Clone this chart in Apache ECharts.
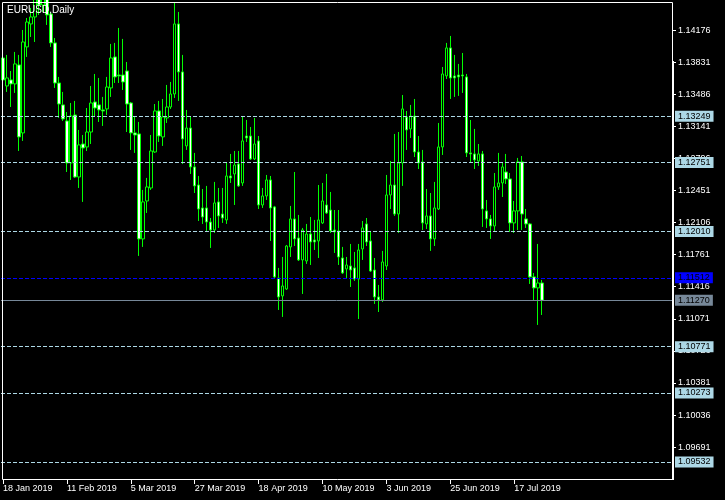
<!DOCTYPE html>
<html>
<head>
<meta charset="utf-8">
<script src="https://cdn.jsdelivr.net/npm/echarts@6.0.0/dist/echarts.min.js"></script>
<style>
html,body{margin:0;padding:0;background:#000;}
#chart{width:725px;height:500px;}
</style>
</head>
<body>
<div id="chart"></div>
<script>
// ---- data (EURUSD daily) ----
const symbolTitle = 'EURUSD,Daily';
const firstDate = '2019-01-18';
const opens = [
1.13876,1.13575,1.13640,1.13597,1.13801,1.13070,1.13995,1.14242,1.14317,1.14801,
1.14446,1.14532,1.14349,1.14038,1.13607,1.13371,1.13199,1.12747,1.13263,1.12596,
1.12951,1.12919,1.13080,1.13403,1.13371,1.13317,1.13328,1.13554,1.13887,1.13693,
1.13693,1.13736,1.13392,1.13070,1.13059,1.11930,1.12338,1.12478,1.12865,1.13306,
1.13027,1.13231,1.13349,1.13489,1.14242,1.13726,1.12930,1.13123,1.12704,1.12510,
1.12263,1.12263,1.12112,1.12026,1.12328,1.12198,1.12134,1.12607,1.12629,1.12736,
1.12532,1.13037,1.13037,1.12790,1.12984,1.12295,1.12392,1.12564,1.12274,1.11510,
1.11317,1.11392,1.11844,1.12145,1.11940,1.11704,1.11693,1.11983,1.11919,1.11908,
1.12102,1.12295,1.12241,1.12026,1.12016,1.11725,1.11607,1.11639,1.11618,1.11499,
1.11822,1.12091,1.11908,1.11596,1.11306,1.11274,1.11639,1.12403,1.12510,1.12198,
1.12747,1.13242,1.13113,1.13252,1.12865,1.12758,1.12091,1.12177,1.11930,1.12252,
1.12919,1.13683,1.13984,1.13683,1.13693,1.13693,1.13672,1.12855,1.12844,1.12768,
1.12844,1.12231,1.12145,1.12069,1.12489,1.12532,1.12650,1.12575,1.12102,1.12231,
1.12758,1.12145,1.12091,1.11521,1.11403,1.11456];
const highs = [
1.13887,1.13909,1.13736,1.13941,1.13909,1.14177,1.14306,1.14414,1.14984,1.15145,
1.14629,1.14608,1.14371,1.14091,1.13672,1.13511,1.13295,1.13392,1.13414,1.13102,
1.13048,1.13338,1.13575,1.13704,1.13661,1.13457,1.13672,1.14027,1.14038,1.14199,
1.14081,1.13833,1.13403,1.13252,1.13188,1.12457,1.12586,1.13048,1.13381,1.13414,
1.13435,1.13586,1.13618,1.14468,1.14371,1.13909,1.13317,1.13242,1.12855,1.12607,
1.12467,1.12500,1.12155,1.12543,1.12478,1.12478,1.12747,1.12844,1.12876,1.12876,
1.13242,1.13209,1.13134,1.13231,1.13037,1.12478,1.12618,1.12607,1.12285,1.11618,
1.11736,1.11865,1.12285,1.12650,1.12188,1.12048,1.12091,1.12166,1.12134,1.12510,
1.12532,1.12629,1.12435,1.12241,1.12241,1.11844,1.11736,1.11876,1.11790,1.11876,
1.12123,1.12155,1.12016,1.11725,1.11435,1.11801,1.12618,1.12768,1.13059,1.13080,
1.13478,1.13306,1.13371,1.13435,1.13037,1.12887,1.12467,1.12424,1.12543,1.13177,
1.13779,1.14038,1.14113,1.13909,1.13812,1.13930,1.13704,1.13209,1.13113,1.12951,
1.12876,1.12349,1.12188,1.12639,1.12855,1.12747,1.12844,1.12639,1.12338,1.12801,
1.12822,1.12252,1.12102,1.11564,1.11876,1.11489];
const lows = [
1.13554,1.13511,1.13349,1.13500,1.12876,1.12984,1.13887,1.14102,1.14048,1.14339,
1.14371,1.14231,1.13995,1.13554,1.13231,1.13199,1.12650,1.12564,1.12586,1.12478,
1.12328,1.12876,1.12951,1.13242,1.13188,1.13145,1.13263,1.13457,1.13607,1.13607,
1.13532,1.13080,1.12887,1.12855,1.11747,1.11844,1.12209,1.12457,1.12855,1.12973,
1.12930,1.13177,1.13328,1.13446,1.13414,1.12736,1.12887,1.12629,1.12424,1.12123,
1.12091,1.12016,1.11833,1.11994,1.12048,1.12102,1.12091,1.12532,1.12295,1.12489,
1.12500,1.12973,1.12779,1.12779,1.12252,1.12263,1.12349,1.11908,1.11499,1.11166,
1.11091,1.11381,1.11736,1.11854,1.11693,1.11338,1.11661,1.11650,1.11811,1.11725,
1.12091,1.12198,1.11994,1.11779,1.11650,1.11553,1.11499,1.11413,1.11478,1.11069,
1.11704,1.11854,1.11575,1.11231,1.11144,1.11252,1.11596,1.12252,1.12177,1.11994,
1.12500,1.12887,1.13016,1.12811,1.12682,1.12026,1.12037,1.11801,1.11854,1.12241,
1.12833,1.13650,1.13435,1.13457,1.13468,1.13500,1.12811,1.12747,1.12682,1.12715,
1.12059,1.12048,1.11930,1.12016,1.12457,1.12381,1.12521,1.12005,1.11994,1.12026,
1.12026,1.12048,1.11446,1.11263,1.11005,1.11112];
const closes = [
1.13640,1.13661,1.13597,1.13812,1.13027,1.14048,1.14263,1.14317,1.14801,1.14446,
1.14532,1.14339,1.14038,1.13607,1.13381,1.13220,1.12747,1.13252,1.12596,1.12941,
1.12908,1.13080,1.13392,1.13338,1.13317,1.13306,1.13564,1.13876,1.13672,1.13683,
1.13618,1.13381,1.13070,1.13048,1.11930,1.12328,1.12489,1.12876,1.13306,1.13037,
1.13242,1.13349,1.13489,1.14242,1.13726,1.13005,1.13123,1.12704,1.12500,1.12252,
1.12166,1.12112,1.12026,1.12317,1.12177,1.12155,1.12607,1.12586,1.12725,1.12500,
1.12984,1.13016,1.12790,1.12951,1.12295,1.12392,1.12564,1.12263,1.11521,1.11306,
1.11424,1.11854,1.12145,1.11930,1.11704,1.12026,1.11983,1.11897,1.11897,1.12134,
1.12338,1.12209,1.12016,1.12005,1.11736,1.11564,1.11650,1.11596,1.11499,1.11811,
1.12048,1.11897,1.11585,1.11306,1.11274,1.11682,1.12403,1.12510,1.12198,1.12747,
1.13328,1.13102,1.13252,1.12865,1.12747,1.12102,1.12177,1.11930,1.12263,1.12919,
1.13704,1.13984,1.13661,1.13661,1.13672,1.13683,1.12855,1.12844,1.12779,1.12844,
1.12252,1.12145,1.12069,1.12489,1.12532,1.12704,1.12575,1.12102,1.12231,1.12758,
1.12198,1.12091,1.11521,1.11403,1.11456,1.11270];
const priceTicks = [1.14176,1.13831,1.13486,1.13141,1.12796,1.12451,1.12106,1.11761,1.11416,1.11071,1.10726,1.10381,1.10036,1.09691];
const levelLines = [1.13249,1.12751,1.12010,1.10771,1.10273,1.09532];
const blueLine = 1.11512;
const lastPrice = 1.11270;
const priceMin = 1.09348, priceMax = 1.14478;
const totalSlots = 168; // bars + right-hand chart shift

// ---- build categories (trading days) ----
const monthNames = ['Jan','Feb','Mar','Apr','May','Jun','Jul','Aug','Sep','Oct','Nov','Dec'];
const categories = [];
{
  const d = new Date(firstDate + 'T00:00:00Z');
  while (categories.length < opens.length) {
    const wd = d.getUTCDay();
    if (wd !== 0 && wd !== 6) categories.push(d.getUTCDate() + ' ' + monthNames[d.getUTCMonth()] + ' ' + d.getUTCFullYear());
    d.setUTCDate(d.getUTCDate() + 1);
  }
  for (let i = categories.length; i < totalSlots; i++) categories.push('_' + i);
}
const candleData = opens.map((o, i) => [o, closes[i], lows[i], highs[i]]);

const FONT = 'Liberation Sans';
const labelStyle = (bg) => ({
  show: true, position: 'end', distance: 3,
  formatter: p => Number(p.value).toFixed(5),
  backgroundColor: bg, color: '#000', fontSize: 9, fontFamily: FONT,
  padding: [1, 3, 0, 3], lineHeight: 10
});
const dashed = (c) => ({ color: c, width: 1, type: [4, 2] });

const markData = levelLines.map(v => ({ yAxis: v, lineStyle: dashed('#add8e6'), label: labelStyle('#add8e6') }));
markData.push({ yAxis: blueLine, lineStyle: dashed('#0000ff'), label: labelStyle('#0000ff') });
markData.push({ yAxis: lastPrice, lineStyle: { color: '#778899', width: 1, type: 'solid' }, label: labelStyle('#778899') });

const chart = echarts.init(document.getElementById('chart'), null, { renderer: 'canvas' });
const showIdx = (idx) => idx % 16 === 0 && idx < opens.length;
chart.setOption({
  backgroundColor: '#000000',
  animation: false,
  grid: { left: 0, right: 53, top: 2, bottom: 21, containLabel: false },
  xAxis: {
    type: 'category', data: categories, boundaryGap: true,
    axisLine: { show: false },
    axisTick: { show: true, alignWithLabel: true, interval: showIdx, length: 5, lineStyle: { color: '#ffffff' } },
    axisLabel: { interval: showIdx, color: '#ffffff', fontSize: 9, fontFamily: FONT, align: 'left', margin: 5 },
    splitLine: { show: false }
  },
  yAxis: {
    type: 'value', position: 'right', min: priceMin, max: priceMax,
    axisLine: { show: false },
    splitLine: { show: false },
    axisTick: { show: true, length: 4, lineStyle: { color: '#ffffff' }, customValues: priceTicks },
    axisLabel: { color: '#ffffff', fontSize: 9, fontFamily: FONT, margin: 6, customValues: priceTicks, formatter: v => v.toFixed(5) }
  },
  series: [{
    type: 'candlestick',
    data: candleData,
    barWidth: 3,
    clip: true,
    itemStyle: { color: '#000000', color0: '#ffffff', borderColor: '#00ff00', borderColor0: '#00ff00', borderWidth: 1 },
    markLine: { silent: true, precision: 5, symbol: ['none', 'none'], animation: false, data: markData }
  }],
  graphic: [
    { type: 'line', shape: { x1: 2.5, y1: 2.5, x2: 672.5, y2: 2.5 }, style: { stroke: '#fff', lineWidth: 1 }, z: 100 },
    { type: 'line', shape: { x1: 2.5, y1: 2.5, x2: 2.5, y2: 479.5 }, style: { stroke: '#fff', lineWidth: 1 }, z: 100 },
    { type: 'line', shape: { x1: 2.5, y1: 479.5, x2: 673, y2: 479.5 }, style: { stroke: '#fff', lineWidth: 1 }, z: 100 },
    { type: 'line', shape: { x1: 672.5, y1: 2.5, x2: 672.5, y2: 61 }, style: { stroke: '#fff', lineWidth: 1 }, z: 100 },
    { type: 'rect', shape: { x: 672, y: 61, width: 2, height: 419 }, style: { fill: '#fff' }, z: 100 },
    { type: 'text', left: 7, top: 5, style: { text: symbolTitle, fill: '#ffffff', fontSize: 10, fontFamily: FONT }, z: 100 }
  ]
});
</script>
</body>
</html>
